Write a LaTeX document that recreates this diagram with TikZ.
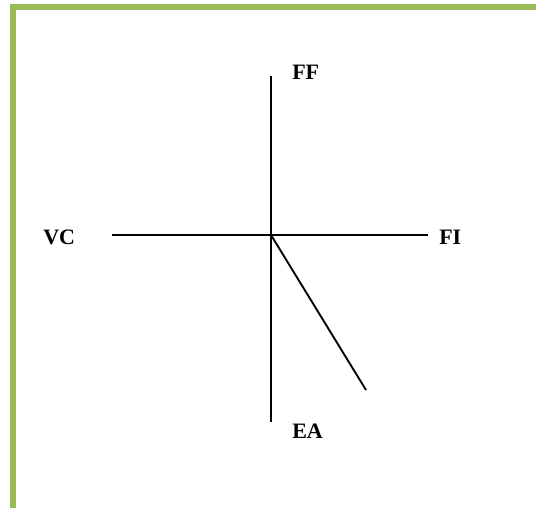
\documentclass[tikz,border=0pt]{standalone}
\usepackage{fontspec}
\setmainfont{Liberation Serif}
\begin{document}
\begin{tikzpicture}[x=0.75pt,y=-0.75pt,
  lbl/.style={anchor=base west,inner sep=0pt,font=\fontsize{16.5}{19}\selectfont\bfseries},
  axis/.style={line width=1.1pt,black}]
\useasboundingbox (0,0) rectangle (536,508);
\definecolor{framegreen}{HTML}{9BBB59}
\draw[framegreen,line width=4.5pt] (13.3,508) -- (13.3,7) -- (536,7);
\coordinate (O) at (271,235);
\coordinate (top) at (271,76);
\coordinate (bot) at (271,422);
\coordinate (left) at (112,235);
\coordinate (right) at (428,235);
\coordinate (diag) at (366,390);
\draw[axis] (top) -- (bot);
\draw[axis] (left) -- (right);
\draw[axis,line width=1.4pt] (O) -- (diag);
\node[lbl] (FF) at (292,79) {FF};
\node[lbl] (VC) at (43,244) {VC};
\node[lbl] (FI) at (439,244) {FI};
\node[lbl] (EA) at (292,438) {EA};
\end{tikzpicture}
\end{document}
